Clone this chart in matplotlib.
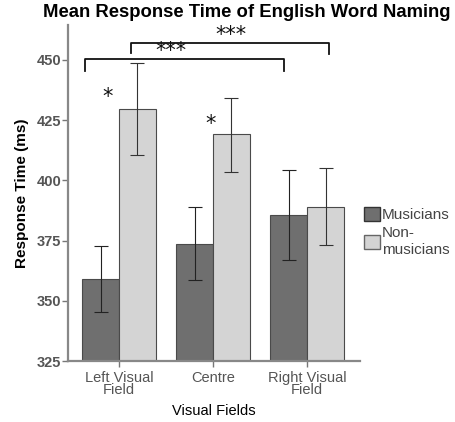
import matplotlib
matplotlib.use("Agg")
import matplotlib.pyplot as plt
import numpy as np
from matplotlib.patches import Patch

categories = ["Left Visual\nField", "Centre", "Right Visual\nField"]
musicians = [358.9, 373.7, 385.6]
musicians_lo = [345.2, 358.5, 366.9]
musicians_hi = [372.8, 388.8, 404.3]
non_musicians = [429.6, 419.1, 389.1]
non_lo = [410.5, 403.6, 373.2]
non_hi = [448.9, 434.3, 405.0]

plt.rcParams['font.family'] = ['Liberation Sans', 'DejaVu Sans']

fig = plt.figure(figsize=(4.55, 4.22), dpi=100)
ax = fig.add_axes([0.1495, 0.1445, 0.791 - 0.1495, 0.9408 - 0.1445])

x = np.arange(len(categories))
w = 0.39
c_mus = "#6f6f6f"
c_non = "#d4d4d4"
edge = "#4a4a4a"

m = np.array(musicians); n = np.array(non_musicians)
ax.bar(x - w/2, m - 325, w, bottom=325, color=c_mus, edgecolor=edge, linewidth=0.8, zorder=2)
ax.bar(x + w/2, n - 325, w, bottom=325, color=c_non, edgecolor=edge, linewidth=0.8, zorder=2)
ax.errorbar(x - w/2, m, yerr=[m - np.array(musicians_lo), np.array(musicians_hi) - m],
            fmt='none', ecolor="#222222", elinewidth=0.8, capsize=5, capthick=0.8, zorder=3)
ax.errorbar(x + w/2, n, yerr=[n - np.array(non_lo), np.array(non_hi) - n],
            fmt='none', ecolor="#333333", elinewidth=0.8, capsize=5, capthick=0.8, zorder=3)

ax.set_ylim(325, 464.5)
ax.set_xlim(-0.54, 2.56)
ax.set_yticks([325, 350, 375, 400, 425, 450])
ax.set_xticks(x)
ax.set_xticklabels(categories, color="#555555", fontsize=10.5, linespacing=0.85)
for t in ax.get_yticklabels():
    t.set_fontweight('bold'); t.set_color("#555555"); t.set_fontsize(10.5)
ax.tick_params(axis='both', length=4, color="#777777", width=1)
ax.tick_params(axis='x', pad=3)
ax.tick_params(axis='y', pad=1)

for s in ['top', 'right']:
    ax.spines[s].set_visible(False)
for s in ['left', 'bottom']:
    ax.spines[s].set_color("#888888")
    ax.spines[s].set_linewidth(1.6)

ax.set_ylabel("Response Time (ms)", fontsize=11, fontweight='bold', labelpad=5)
ax.set_xlabel("Visual Fields", fontsize=10.5, labelpad=5)
fig.suptitle("Mean Response Time of English Word Naming", x=0.543, y=0.99,
             fontsize=13.3, fontweight='bold')

# brackets
def bracket(x0, x1, y, yl0, yl1):
    ax.plot([x0, x0, x1, x1], [yl0, y, y, yl1], color="#111111", lw=1.3, clip_on=False, zorder=4)

star_kw = dict(ha='center', va='center', fontsize=15, family='DejaVu Sans', color="#111111")
bracket(-0.36, 1.755, 450.4, 445.6, 445.6)
ax.text(0.55, 453.5, "***", **star_kw)
bracket(0.128, 2.23, 457.1, 453.0, 452.3)
ax.text(1.19, 460.5, "***", **star_kw)
ax.text(-0.117, 434.5, "*", **star_kw)
ax.text(0.97, 423.5, "*", **star_kw)

handles = [Patch(facecolor=c_mus, edgecolor="#333333", label="Musicians"),
           Patch(facecolor=c_non, edgecolor="#666666", label="Non-\nmusicians")]
leg = fig.legend(handles=handles, loc='upper left', bbox_to_anchor=(0.787, 0.525),
                 frameon=False, fontsize=11, handlelength=1.05, handleheight=1.05,
                 handletextpad=0.1, labelspacing=0.3, labelcolor="#444444",
                 borderpad=0.2, borderaxespad=0.2)

fig.savefig("out.png", dpi=100)
